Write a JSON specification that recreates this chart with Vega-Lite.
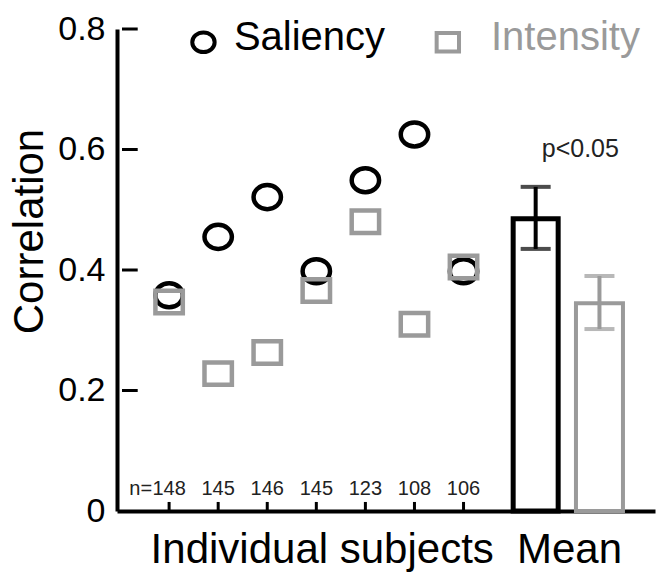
{
  "$schema": "https://vega.github.io/schema/vega-lite/v6.json",
  "autosize": {"type": "none"},
  "padding": {"left": 117, "top": 29, "right": 1, "bottom": 61},
  "width": 538,
  "height": 482,
  "background": "white",
  "config": {"view": {"stroke": null}, "font": "Liberation Sans"},
  "resolve": {"axis": {"x": "independent", "y": "independent"}},
  "datasets": {
    "points": [
      {"subject": 1, "series": "Saliency", "r": 0.358},
      {"subject": 2, "series": "Saliency", "r": 0.455},
      {"subject": 3, "series": "Saliency", "r": 0.521},
      {"subject": 4, "series": "Saliency", "r": 0.398},
      {"subject": 5, "series": "Saliency", "r": 0.549},
      {"subject": 6, "series": "Saliency", "r": 0.625},
      {"subject": 7, "series": "Saliency", "r": 0.398},
      {"subject": 1, "series": "Intensity", "r": 0.347},
      {"subject": 2, "series": "Intensity", "r": 0.228},
      {"subject": 3, "series": "Intensity", "r": 0.263},
      {"subject": 4, "series": "Intensity", "r": 0.366},
      {"subject": 5, "series": "Intensity", "r": 0.480},
      {"subject": 6, "series": "Intensity", "r": 0.310},
      {"subject": 7, "series": "Intensity", "r": 0.405}
    ],
    "means": [
      {"series": "Saliency", "pos": 8.47, "mean": 0.485, "lo": 0.435, "hi": 0.538},
      {"series": "Intensity", "pos": 9.77, "mean": 0.345, "lo": 0.302, "hi": 0.39}
    ],
    "counts": [
      {"subject": 1, "n": "148"},
      {"subject": 2, "n": "145"},
      {"subject": 3, "n": "146"},
      {"subject": 4, "n": "145"},
      {"subject": 5, "n": "123"},
      {"subject": 6, "n": "108"},
      {"subject": 7, "n": "106"}
    ],
    "yticks": [{"v": 0.2}, {"v": 0.4}, {"v": 0.6}, {"v": 0.8}],
    "legend": [
      {"series": "Saliency", "sx": 1.70, "tx": 2.32},
      {"series": "Intensity", "sx": 6.68, "tx": 7.56}
    ]
  },
  "layer": [
    {
      "data": {"name": "points"},
      "mark": {"type": "point", "filled": false, "strokeWidth": 4.5, "size": 750, "opacity": 1},
      "encoding": {
        "x": {
          "field": "subject", "type": "quantitative",
          "scale": {"domain": [0.04, 10.8], "nice": false, "zero": false},
          "axis": {"values": [1, 2, 3, 4, 5, 6, 7], "labels": false, "ticks": false, "domainColor": "black", "domainWidth": 4, "grid": false, "title": null}
        },
        "y": {
          "field": "r", "type": "quantitative",
          "scale": {"domain": [0, 0.8], "nice": false},
          "axis": {"values": [0, 0.2, 0.4, 0.6, 0.8], "labelExpr": "datum.value === 0 ? '0' : format(datum.value, '.1f')", "ticks": false, "domainColor": "black", "domainWidth": 4, "grid": false, "labelFontSize": 34, "labelColor": "black", "labelPadding": 12, "title": "Correlation", "titleFontSize": 42, "titleFontWeight": "normal", "titleColor": "black", "titleAngle": 270, "titleAlign": "center", "titleBaseline": "alphabetic", "titleX": -75, "titleY": 202}
        },
        "shape": {
          "field": "series", "type": "nominal",
          "scale": {"domain": ["Saliency", "Intensity"], "range": ["M-1,0A1,0.88,0,1,1,1,0A1,0.88,0,1,1,-1,0Z", "M-1,-0.82H1V0.82H-1Z"]},
          "legend": null
        },
        "stroke": {
          "field": "series", "type": "nominal",
          "scale": {"domain": ["Saliency", "Intensity"], "range": ["#000000", "#9a9a9a"]},
          "legend": null
        }
      }
    },
    {
      "data": {"name": "legend"},
      "mark": {"type": "point", "filled": false, "strokeWidth": 4, "size": 500, "opacity": 1},
      "encoding": {
        "x": {"field": "sx", "type": "quantitative", "scale": {"domain": [0.04, 10.8], "nice": false, "zero": false}, "axis": null},
        "y": {"datum": 0.778, "type": "quantitative", "scale": {"domain": [0, 0.8], "nice": false}, "axis": null},
        "shape": {"field": "series", "type": "nominal", "scale": {"domain": ["Saliency", "Intensity"], "range": ["M-1,0A1,0.88,0,1,1,1,0A1,0.88,0,1,1,-1,0Z", "M-1,-0.82H1V0.82H-1Z"]}, "legend": null},
        "stroke": {"field": "series", "type": "nominal", "scale": {"domain": ["Saliency", "Intensity"], "range": ["#000000", "#9a9a9a"]}, "legend": null}
      }
    },
    {
      "data": {"name": "legend"},
      "mark": {"type": "text", "fontSize": 40, "align": "left", "baseline": "alphabetic"},
      "encoding": {
        "x": {"field": "tx", "type": "quantitative", "scale": {"domain": [0.04, 10.8], "nice": false, "zero": false}, "axis": null},
        "y": {"datum": 0.765, "type": "quantitative", "scale": {"domain": [0, 0.8], "nice": false}, "axis": null},
        "text": {"field": "series"},
        "color": {"field": "series", "type": "nominal", "scale": {"domain": ["Saliency", "Intensity"], "range": ["#000000", "#9a9a9a"]}, "legend": null}
      }
    },
    {
      "data": {"name": "yticks"},
      "mark": {"type": "rule", "strokeWidth": 3, "color": "black"},
      "encoding": {
        "x": {"datum": 0.04, "type": "quantitative", "scale": {"domain": [0.04, 10.8], "nice": false, "zero": false}, "axis": null},
        "x2": {"datum": 0.36},
        "y": {"field": "v", "type": "quantitative", "scale": {"domain": [0, 0.8], "nice": false}, "axis": null}
      }
    },
    {
      "data": {"name": "counts"},
      "mark": {"type": "rule", "strokeWidth": 3, "color": "black"},
      "encoding": {
        "x": {"field": "subject", "type": "quantitative", "scale": {"domain": [0.04, 10.8], "nice": false, "zero": false}, "axis": null},
        "y": {"datum": 0, "type": "quantitative", "scale": {"domain": [0, 0.8], "nice": false}, "axis": null},
        "y2": {"datum": 0.015}
      }
    },
    {
      "data": {"name": "means"},
      "transform": [{"filter": "datum.series === 'Saliency'"}],
      "mark": {"type": "bar", "fill": "transparent", "stroke": "black", "strokeWidth": 5, "size": 45},
      "encoding": {
        "x": {"field": "pos", "type": "quantitative", "scale": {"domain": [0.04, 10.8], "nice": false, "zero": false}, "axis": null},
        "y": {"field": "mean", "type": "quantitative", "scale": {"domain": [0, 0.8], "nice": false}, "axis": null}
      }
    },
    {
      "data": {"name": "means"},
      "transform": [{"filter": "datum.series === 'Intensity'"}],
      "mark": {"type": "bar", "fill": "transparent", "stroke": "#9a9a9a", "strokeWidth": 4, "size": 47},
      "encoding": {
        "x": {"field": "pos", "type": "quantitative", "scale": {"domain": [0.04, 10.8], "nice": false, "zero": false}, "axis": null},
        "y": {"field": "mean", "type": "quantitative", "scale": {"domain": [0, 0.8], "nice": false}, "axis": null}
      }
    },
    {
      "data": {"name": "means"},
      "mark": {"type": "rule", "strokeWidth": 4},
      "encoding": {
        "x": {"field": "pos", "type": "quantitative", "scale": {"domain": [0.04, 10.8], "nice": false, "zero": false}, "axis": null},
        "y": {"field": "lo", "type": "quantitative", "scale": {"domain": [0, 0.8], "nice": false}, "axis": null},
        "y2": {"field": "hi"},
        "color": {"field": "series", "type": "nominal", "scale": {"domain": ["Saliency", "Intensity"], "range": ["#000000", "#9a9a9a"]}, "legend": null}
      }
    },
    {
      "data": {"name": "means"},
      "mark": {"type": "tick", "orient": "horizontal", "size": 30, "thickness": 4},
      "encoding": {
        "x": {"field": "pos", "type": "quantitative", "scale": {"domain": [0.04, 10.8], "nice": false, "zero": false}, "axis": null},
        "y": {"field": "hi", "type": "quantitative", "scale": {"domain": [0, 0.8], "nice": false}, "axis": null},
        "color": {"field": "series", "type": "nominal", "scale": {"domain": ["Saliency", "Intensity"], "range": ["#000000", "#9a9a9a"]}, "legend": null}
      }
    },
    {
      "data": {"name": "means"},
      "mark": {"type": "tick", "orient": "horizontal", "size": 30, "thickness": 4},
      "encoding": {
        "x": {"field": "pos", "type": "quantitative", "scale": {"domain": [0.04, 10.8], "nice": false, "zero": false}, "axis": null},
        "y": {"field": "lo", "type": "quantitative", "scale": {"domain": [0, 0.8], "nice": false}, "axis": null},
        "color": {"field": "series", "type": "nominal", "scale": {"domain": ["Saliency", "Intensity"], "range": ["#000000", "#9a9a9a"]}, "legend": null}
      }
    },
    {
      "data": {"name": "counts"},
      "mark": {"type": "text", "fontSize": 20, "color": "#222222", "align": "center", "baseline": "alphabetic"},
      "encoding": {
        "x": {"field": "subject", "type": "quantitative", "scale": {"domain": [0.04, 10.8], "nice": false, "zero": false}, "axis": null},
        "y": {"datum": 0.027, "type": "quantitative", "scale": {"domain": [0, 0.8], "nice": false}, "axis": null},
        "text": {"field": "n"}
      }
    },
    {
      "data": {"values": [{"label": "n="}]},
      "mark": {"type": "text", "fontSize": 20, "color": "#222222", "align": "right", "baseline": "alphabetic", "dx": -17},
      "encoding": {
        "x": {"datum": 1, "type": "quantitative", "scale": {"domain": [0.04, 10.8], "nice": false, "zero": false}, "axis": null},
        "y": {"datum": 0.027, "type": "quantitative", "scale": {"domain": [0, 0.8], "nice": false}, "axis": null},
        "text": {"field": "label"}
      }
    },
    {
      "data": {"values": [{"label": "p<0.05"}]},
      "mark": {"type": "text", "fontSize": 25, "color": "#222222", "align": "center", "baseline": "alphabetic"},
      "encoding": {
        "x": {"datum": 9.38, "type": "quantitative", "scale": {"domain": [0.04, 10.8], "nice": false, "zero": false}, "axis": null},
        "y": {"datum": 0.588, "type": "quantitative", "scale": {"domain": [0, 0.8], "nice": false}, "axis": null},
        "text": {"field": "label"}
      }
    },
    {
      "data": {"values": [{"label": "Individual subjects", "pos": 4.12}, {"label": "Mean", "pos": 9.16}]},
      "mark": {"type": "text", "fontSize": 42, "color": "black", "align": "center", "baseline": "alphabetic"},
      "encoding": {
        "x": {"field": "pos", "type": "quantitative", "scale": {"domain": [0.04, 10.8], "nice": false, "zero": false}, "axis": null},
        "y": {"datum": -0.087, "type": "quantitative", "scale": {"domain": [0, 0.8], "nice": false}, "axis": null},
        "text": {"field": "label"}
      }
    }
  ]
}
